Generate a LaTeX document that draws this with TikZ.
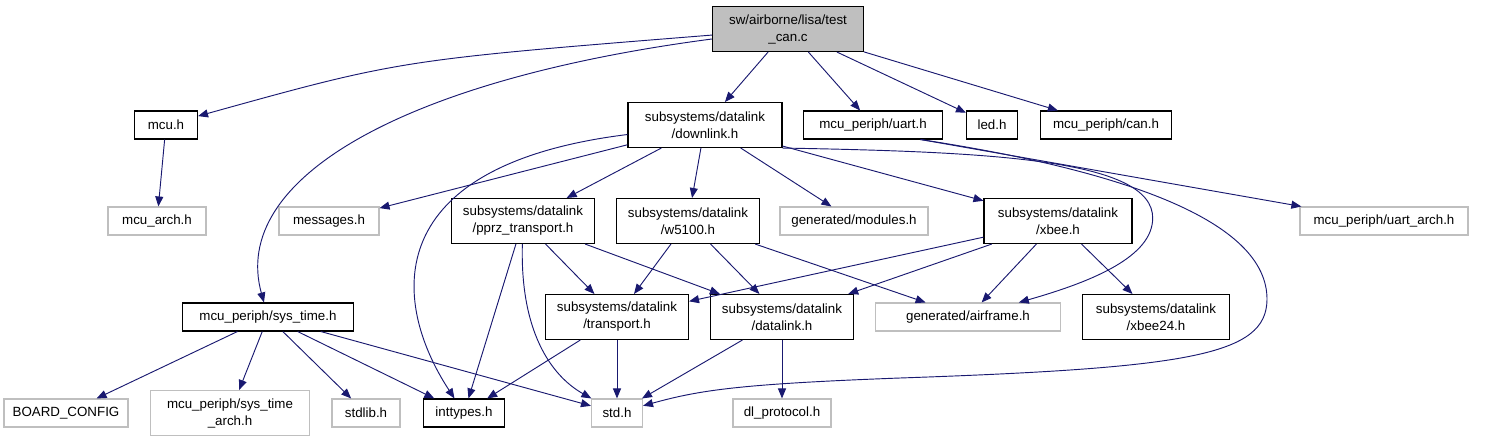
\documentclass[tikz,border=0pt]{standalone}
\usepackage{fontspec}
\setmainfont{Liberation Sans}
\usetikzlibrary{arrows.meta}
\definecolor{edgeblue}{HTML}{191970}
\definecolor{boxgray}{HTML}{BFBFBF}
\tikzset{
  file/.style={draw=black, line width=0.8pt, fill=white, align=center, inner sep=0pt,
    minimum height=21pt, font=\fontsize{10}{12.75}\selectfont},
  twoline/.style={minimum height=33.75pt},
  extfile/.style={file, draw=boxgray},
  edge/.style={draw=edgeblue, line width=0.7pt, -{Triangle[length=7.5pt,width=6pt]}}
}
\begin{document}
\begin{tikzpicture}[x=0.75pt, y=-0.75pt]
    \useasboundingbox (0,0) rectangle (1493,443);
    \node[file, twoline, fill=boxgray, minimum width=113.25pt] (testcan) at (788,29) {sw/airborne/lisa/test\\\_can.c};
    \node[file, minimum width=47.25pt] (mcu) at (166,125) {mcu.h};
    \node[file, twoline, minimum width=115.5pt] (downlink) at (705,125) {subsystems/datalink\\/downlink.h};
    \node[file, minimum width=104.25pt] (uart) at (873,125) {mcu\_periph/uart.h};
    \node[file, minimum width=38.25pt] (led) at (992,125) {led.h};
    \node[file, minimum width=98.25pt] (can) at (1106,125) {mcu\_periph/can.h};
    \node[extfile, minimum width=73.5pt] (mcuarch) at (157,221) {mcu\_arch.h};
    \node[extfile, minimum width=75pt] (messages) at (329,221) {messages.h};
    \node[file, twoline, minimum width=107.25pt] (pprz) at (523,221) {subsystems/datalink\\/pprz\_transport.h};
    \node[file, twoline, minimum width=107.25pt] (wfivek) at (688,221) {subsystems/datalink\\/w5100.h};
    \node[extfile, minimum width=111pt] (modules) at (854,221) {generated/modules.h};
    \node[file, twoline, minimum width=111pt] (xbee) at (1058,221) {subsystems/datalink\\/xbee.h};
    \node[extfile, minimum width=126pt] (uartarch) at (1384,221) {mcu\_periph/uart\_arch.h};
    \node[file, minimum width=128.25pt] (systime) at (268,317) {mcu\_periph/sys\_time.h};
    \node[file, twoline, minimum width=107.25pt] (transport) at (617,317) {subsystems/datalink\\/transport.h};
    \node[file, twoline, minimum width=107.25pt] (datalink) at (782,317) {subsystems/datalink\\/datalink.h};
    \node[extfile, minimum width=138.75pt] (airframe) at (968,317) {generated/airframe.h};
    \node[file, twoline, minimum width=110.25pt] (xbeetwofour) at (1156,317) {subsystems/datalink\\/xbee24.h};
    \node[extfile, minimum width=93pt] (boardcfg) at (66,413) {BOARD\_CONFIG};
    \node[extfile, twoline, minimum width=119.25pt] (systimearch) at (230,413) {mcu\_periph/sys\_time\\\_arch.h};
    \node[extfile, minimum width=51pt] (stdlib) at (366,413) {stdlib.h};
    \node[file, minimum width=60.75pt] (inttypes) at (464,413) {inttypes.h};
    \node[extfile, minimum width=38.25pt] (std) at (617,413) {std.h};
    \node[extfile, minimum width=73.5pt] (dlproto) at (782,413) {dl\_protocol.h};
    \foreach \t in {downlink,uart,led,can}
      \draw[edge] (testcan) -- (\t);
    \draw[edge] (testcan) .. controls (400,60) .. (mcu);
    \draw[edge] (testcan) .. controls (400,80) and (230,180) .. (systime);
    \draw[edge] (mcu) -- (mcuarch);
    \foreach \t in {messages,pprz,wfivek,modules,xbee}
      \draw[edge] (downlink) -- (\t);
    \draw[edge] (downlink) .. controls (380,165) and (390,300) .. (inttypes);
    \draw[edge] (downlink.south east) .. controls (1000,152) and (1165,160) .. (1152,225)
      .. controls (1145,262) and (1080,285) .. (airframe);
    \draw[edge] (uart.-17) -- (uartarch);
    \draw[edge] (uart.-17) .. controls (1120,170) and (1268,220) .. (1267,300)
      .. controls (1266,355) and (1190,368) .. (900,378)
      .. controls (740,384) and (700,390) .. (std);
    \foreach \t in {inttypes,transport,datalink}
      \draw[edge] (pprz) -- (\t);
    \draw[edge] (pprz) .. controls (520,330) and (550,375) .. (std);
    \foreach \t in {transport,datalink,airframe}
      \draw[edge] (wfivek) -- (\t);
    \foreach \t in {transport,datalink,airframe,xbeetwofour}
      \draw[edge] (xbee) -- (\t);
    \foreach \t in {inttypes,std}
      \draw[edge] (transport) -- (\t);
    \foreach \t in {std,dlproto}
      \draw[edge] (datalink) -- (\t);
    \foreach \t in {boardcfg,systimearch,stdlib,inttypes,std}
      \draw[edge] (systime) -- (\t);
\end{tikzpicture}
\end{document}
